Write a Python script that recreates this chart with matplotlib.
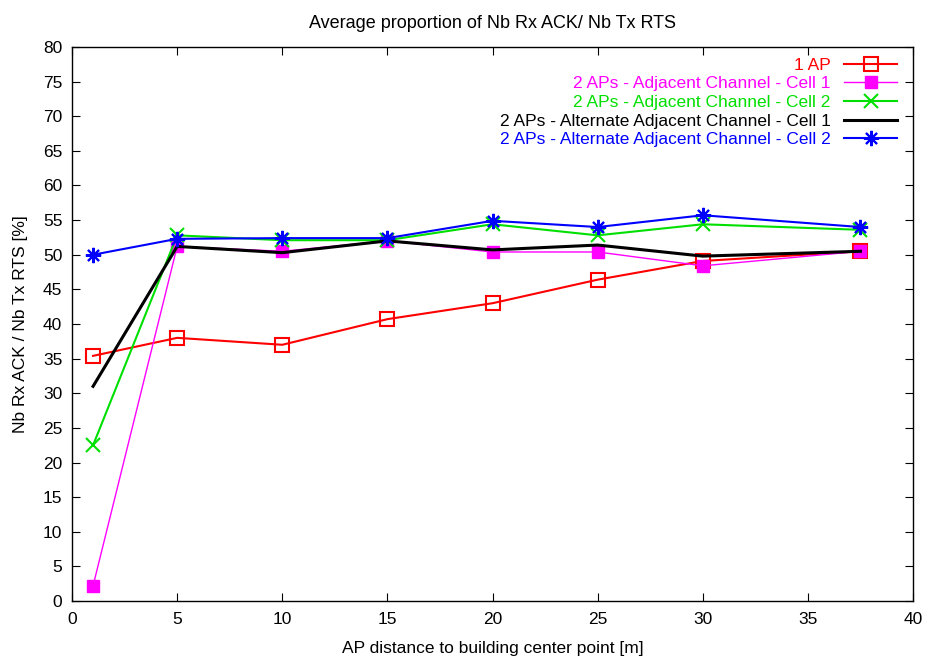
import matplotlib
matplotlib.use("Agg")
import matplotlib.pyplot as plt

plt.rcParams['font.family'] = ['Liberation Sans', 'DejaVu Sans']

# AP distance to building center point [m]
distance = [1, 5, 10, 15, 20, 25, 30, 37.5]

# Nb Rx ACK / Nb Tx RTS [%]
one_ap = [35.4, 38.0, 37.0, 40.7, 43.0, 46.4, 49.1, 50.5]
adj_cell1 = [2.2, 51.2, 50.5, 52.0, 50.4, 50.4, 48.4, 50.5]
adj_cell2 = [22.5, 52.8, 52.1, 52.1, 54.4, 52.8, 54.4, 53.6]
alt_cell1 = [31.0, 51.2, 50.3, 52.0, 50.7, 51.4, 49.8, 50.5]
alt_cell2 = [50.0, 52.3, 52.4, 52.4, 54.9, 54.0, 55.7, 54.0]

fs = 12.5

fig = plt.figure(figsize=(9.32, 6.58), dpi=100)
ax = fig.add_axes([0.0773, 0.0866, 0.9023, 0.842])

# gnuplot style asterisk: + and x together
asterisk = (8, 2, 0)

ax.plot(distance, one_ap, color='red', lw=1.5, marker='s', ms=9.5,
        mfc='none', mec='red', mew=1.5, label='1 AP')
ax.plot(distance, adj_cell1, color='magenta', lw=1.0, marker='s', ms=8.5,
        mfc='magenta', mec='magenta', label='2 APs - Adjacent Channel - Cell 1')
ax.plot(distance, adj_cell2, color='#00e000', lw=1.5, marker='x', ms=9.5,
        mew=1.5, label='2 APs - Adjacent Channel - Cell 2')
ax.plot(distance, alt_cell1, color='black', lw=2.2,
        label='2 APs - Alternate Adjacent Channel - Cell 1')
ax.plot(distance, alt_cell2, color='blue', lw=1.5, marker=asterisk, ms=11,
        mew=1.5, label='2 APs - Alternate Adjacent Channel - Cell 2')

ax.set_xlim(0, 40)
ax.set_ylim(0, 80)
ax.set_xticks(range(0, 41, 5))
ax.set_yticks(range(0, 81, 5))
ax.tick_params(direction='in', length=6, top=True, right=True, labelsize=fs)
ax.tick_params(axis='y', pad=7)
ax.tick_params(axis='x', pad=8)
for s in ax.spines.values():
    s.set_linewidth(1.0)

ax.set_title('Average proportion of Nb Rx ACK/ Nb Tx RTS', fontsize=13, pad=14)
ax.set_xlabel('AP distance to building center point [m]', fontsize=fs, labelpad=10)
ax.set_ylabel('Nb Rx ACK / Nb Tx RTS [%]', fontsize=fs, labelpad=11)

leg = ax.legend(loc='upper right', bbox_to_anchor=(1.0, 1.009), frameon=False,
                markerfirst=False, fontsize=fs, handlelength=3.05,
                labelspacing=0.2, numpoints=1, borderaxespad=0.5,
                handletextpad=0.8)
for txt, line in zip(leg.get_texts(), leg.get_lines()):
    txt.set_color(line.get_color())
    txt.set_ha('right')

fig.savefig('out.png', dpi=100)
